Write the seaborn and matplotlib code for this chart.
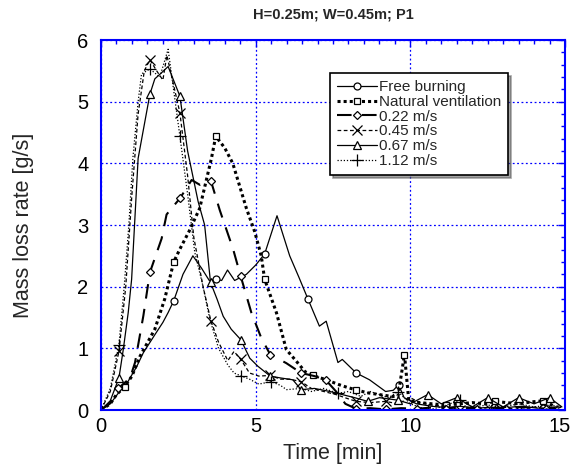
import numpy as np
import pandas as pd
import matplotlib
matplotlib.use("Agg")
import matplotlib.pyplot as plt
import matplotlib.transforms as mtransforms
import seaborn as sns
from matplotlib.ticker import MultipleLocator

# ---------------- data ----------------
fb_t = [0, 0.3, 0.6, 0.87, 1.15, 1.37, 1.74, 2.0, 2.17, 2.35, 2.65, 2.97, 3.25, 3.5, 3.73, 3.9, 4.09,
        4.32, 4.7, 5.0, 5.29, 5.69, 6.1, 6.4, 6.69, 7.06, 7.28, 7.66, 7.8, 8.25, 8.68, 9.2, 9.45, 9.62,
        9.8, 10.2, 10.7, 11.15, 11.6, 12.2, 12.7, 13.1, 13.6, 14.1, 14.3, 14.8]
fb_v = [0, 0.1, 0.3, 0.46, 0.7, 0.93, 1.22, 1.42, 1.58, 1.77, 2.2, 2.5, 2.3, 2.1, 2.12, 2.1, 2.27,
        2.1, 2.2, 2.35, 2.53, 3.15, 2.5, 2.15, 1.8, 1.36, 1.44, 0.77, 0.82, 0.6, 0.49, 0.3, 0.32, 0.41,
        0.2, 0.1, 0.06, 0.04, 0.06, 0.03, 0.05, 0.04, 0.06, 0.03, 0.04, 0.05]
fb_m = [2.35, 3.73, 5.29, 6.69, 8.25, 9.62, 11.15, 12.7, 14.3]

nv_t = [0, 0.3, 0.5, 0.77, 1.0, 1.26, 1.74, 2.06, 2.35, 2.55, 2.85, 3.19, 3.57, 3.71, 4.0, 4.26, 4.7,
        4.97, 5.18, 5.29, 5.67, 5.99, 6.3, 6.6, 6.85, 7.28, 7.7, 8.0, 8.23, 8.6, 9.0, 9.4, 9.6, 9.81,
        9.95, 10.3, 10.7, 11.15, 11.6, 12.0, 12.4, 12.74, 13.1, 13.5, 13.9, 14.3, 14.7]
nv_v = [0, 0.1, 0.25, 0.38, 0.55, 0.87, 1.31, 1.8, 2.4, 2.61, 2.9, 3.27, 4.08, 4.44, 4.25, 4.0, 3.27,
        2.89, 2.5, 2.12, 1.58, 0.98, 0.8, 0.62, 0.56, 0.49, 0.41, 0.36, 0.33, 0.28, 0.25, 0.22, 0.22, 0.9,
        0.15, 0.12, 0.1, 0.08, 0.1, 0.12, 0.1, 0.14, 0.12, 0.1, 0.13, 0.15, 0.05]
nv_m = [0.77, 2.35, 3.71, 5.29, 6.85, 8.23, 9.81, 11.15, 12.74, 14.3]

v22_t = [0, 0.3, 0.56, 0.94, 1.1, 1.37, 1.58, 1.96, 2.12, 2.28, 2.55, 2.93, 3.2, 3.55, 3.84, 4.27,
         4.51, 4.86, 5.18, 5.47, 5.99, 6.47, 6.9, 7.26, 7.6, 7.9, 8.25, 8.7, 9.2, 9.7, 10.2, 10.7, 11.15,
         11.6, 12.17, 12.6, 13.1, 13.6, 14.0, 14.4, 14.8]
v22_v = [0, 0.12, 0.35, 0.52, 0.77, 1.53, 2.23, 2.78, 3.17, 3.27, 3.43, 3.73, 3.65, 3.72, 3.24, 2.61,
         2.18, 1.58, 1.17, 0.9, 0.76, 0.6, 0.55, 0.49, 0.3, 0.1, 0.02, 0.03, 0.01, 0.03, 0.02, 0.04, 0.02,
         0.05, 0.02, 0.04, 0.02, 0.05, 0.03, 0.02, 0.04]
v22_m = [0.56, 1.58, 2.55, 3.55, 4.51, 5.47, 6.47, 7.26, 8.25, 9.2, 10.2, 11.15, 12.17, 13.1, 14.4]

v45_t = [0, 0.3, 0.58, 0.8, 1.0, 1.2, 1.4, 1.58, 1.8, 2.0, 2.13, 2.55, 2.8, 3.0, 3.3, 3.55, 3.8, 4.1,
         4.3, 4.52, 4.8, 5.1, 5.47, 5.8, 6.1, 6.47, 6.8, 7.2, 7.6, 8.0, 8.25, 8.7, 9.2, 9.6, 10.0, 10.3,
         10.7, 11.2, 11.6, 12.1, 12.6, 13.0, 13.5, 14.0, 14.6, 14.9]
v45_v = [0, 0.3, 0.95, 2.0, 3.5, 4.8, 5.5, 5.68, 5.5, 5.35, 5.75, 4.82, 3.8, 2.8, 2.0, 1.45, 1.1, 0.8,
         0.95, 0.82, 0.6, 0.55, 0.56, 0.5, 0.5, 0.46, 0.35, 0.3, 0.25, 0.18, 0.14, 0.12, 0.14, 0.1, 0.2,
         0.12, 0.08, 0.05, 0.0, 0.05, 0.0, 0.05, 0.0, 0.05, 0.0, 0.05]
v45_m = [0.58, 1.58, 2.55, 3.55, 4.52, 5.47, 6.47, 8.25, 9.2, 11.6, 12.6, 13.5, 14.6]

v67_t = [0, 0.3, 0.58, 0.72, 0.88, 0.99, 1.2, 1.58, 1.74, 1.96, 2.17, 2.55, 2.8, 3.14, 3.35, 3.54,
         3.75, 3.95, 4.21, 4.52, 4.81, 5.07, 5.47, 5.8, 6.2, 6.47, 6.9, 7.4, 7.8, 8.2, 8.62, 9.0, 9.59,
         10.0, 10.56, 11.0, 11.5, 12.0, 12.5, 13.0, 13.5, 14.0, 14.5, 14.9]
v67_v = [0, 0.15, 0.52, 0.98, 1.58, 2.12, 4.08, 5.12, 5.37, 5.47, 5.57, 5.09, 4.2, 3.38, 3.0, 2.07,
         1.8, 1.52, 1.31, 1.14, 0.84, 0.71, 0.55, 0.52, 0.49, 0.33, 0.35, 0.3, 0.25, 0.2, 0.14, 0.2, 0.16,
         0.1, 0.25, 0.1, 0.2, 0.05, 0.2, 0.05, 0.2, 0.1, 0.2, 0.05]
v67_m = [0.58, 1.58, 2.55, 3.54, 4.52, 5.47, 6.47, 8.62, 9.59, 10.56, 11.5, 12.5, 13.5, 14.5]

v112_t = [0, 0.3, 0.58, 0.75, 0.9, 1.03, 1.2, 1.31, 1.58, 1.9, 2.17, 2.55, 2.8, 3.03, 3.3, 3.52, 3.8,
          4.1, 4.3, 4.54, 4.8, 5.1, 5.5, 5.8, 6.0, 6.47, 6.8, 7.2, 7.66, 8.0, 8.4, 8.7, 9.0, 9.3, 9.6,
          10.0, 10.56, 11.0, 11.6, 12.0, 12.5, 13.0, 13.5, 14.0, 14.5, 14.9]
v112_v = [0, 0.35, 1.06, 2.0, 3.0, 4.08, 5.0, 5.45, 5.53, 5.4, 5.85, 4.44, 3.5, 2.56, 2.0, 1.47, 1.0,
          0.73, 0.6, 0.55, 0.5, 0.42, 0.46, 0.4, 0.33, 0.35, 0.3, 0.35, 0.27, 0.3, 0.22, 0.3, 0.25, 0.2,
          0.3, 0.1, 0.0, 0.05, 0.16, 0.05, 0.08, 0.05, 0.1, 0.05, 0.08, 0.05]
v112_m = [0.58, 1.58, 2.55, 4.54, 5.5, 7.66, 9.6, 10.56, 11.6]

x_ticks = [0, 5, 10, 15]
y_ticks = [0, 1, 2, 3, 4, 5, 6]
labels = ["Free burning", "Natural ventilation", "0.22 m/s", "0.45 m/s", "0.67 m/s", "1.12 m/s"]
title = "H=0.25m; W=0.45m; P1"
x_label = "Time [min]"
y_label = "Mass loss rate [g/s]"

# ---------------- figure ----------------
sns.set_theme(style="white")
plt.rcParams['font.family'] = ['Liberation Sans', 'DejaVu Sans']

fig = plt.figure(figsize=(5.74, 4.65), dpi=100)
ax = fig.add_axes([101/574, 1-410/465, 464/574, 370/465])

series = [
    (fb_t, fb_v, fb_m, dict(marker='o', ms=5, lw=0.9, linestyle='-')),
    (nv_t, nv_v, nv_m, dict(marker='s', ms=5, lw=2.2, linestyle=(0, (1, 1)))),
    (v22_t, v22_v, v22_m, dict(marker='D', ms=4.5, lw=1.5, linestyle=(0, (7, 5)))),
    (v45_t, v45_v, v45_m, dict(marker='x', ms=7, lw=0.9, linestyle=(0, (3, 2)))),
    (v67_t, v67_v, v67_m, dict(marker='^', ms=5.5, lw=0.9, linestyle='-')),
    (v112_t, v112_v, v112_m, dict(marker='+', ms=8, lw=0.9, linestyle=(0, (1, 1.5)))),
]

for (t, v, m, st), lab in zip(series, labels):
    df = pd.DataFrame({"t": t, "v": v})
    idx = [int(np.argmin(np.abs(np.array(t) - mm))) for mm in m]
    sns.lineplot(data=df, x="t", y="v", ax=ax, sort=False, color='black',
                 label=lab, markevery=idx, markerfacecolor='white',
                 markeredgecolor='black', markeredgewidth=0.9, **st)

ax.set_xlim(0, 15)
ax.set_ylim(0, 6)
ax.set_xticks(x_ticks)
ax.set_yticks(y_ticks)
ax.xaxis.set_minor_locator(MultipleLocator(0.5))
ax.yaxis.set_minor_locator(MultipleLocator(0.2))
ax.grid(True, which='major', color='#0000ff', linestyle=(0, (1.5, 2)), linewidth=0.9)
for s in ax.spines.values():
    s.set_color('#0000ff')
    s.set_linewidth(1.5)
ax.tick_params(which='both', direction='in', top=True, right=True, color='#0000ff',
               labelsize=14.5, labelcolor='black')
ax.tick_params(which='major', length=5, width=1)
ax.tick_params(which='minor', length=3, width=1)
ax.tick_params(axis='x', which='major', pad=5)
ax.tick_params(axis='y', which='major', pad=9)
ax.set_xlabel(x_label, fontsize=15.5)
ax.set_ylabel(y_label, fontsize=15.5)
ax.xaxis.set_label_coords(0.5, -0.09)
ax.yaxis.set_label_coords(-0.145, 0.5)
ax.set_title(title, fontsize=10.5, fontweight='bold', pad=0, y=1.057)

leg = ax.legend(loc='upper right', bbox_to_anchor=(0.878, 0.91), fontsize=11,
                frameon=True, fancybox=False, shadow=True, handlelength=2.6,
                handletextpad=0.15, labelspacing=0.05, borderpad=0.45, borderaxespad=0)
leg.get_frame().set_edgecolor('black')
leg.get_frame().set_linewidth(1.2)
leg.get_frame().set_alpha(1)

# keep the last x tick label ("15") inside the canvas
last_lbl = ax.xaxis.get_major_ticks()[-1].label1
last_lbl.set_transform(last_lbl.get_transform() +
                       mtransforms.ScaledTranslation(-5/100, 0, fig.dpi_scale_trans))

fig.savefig("out.png", dpi=100)
